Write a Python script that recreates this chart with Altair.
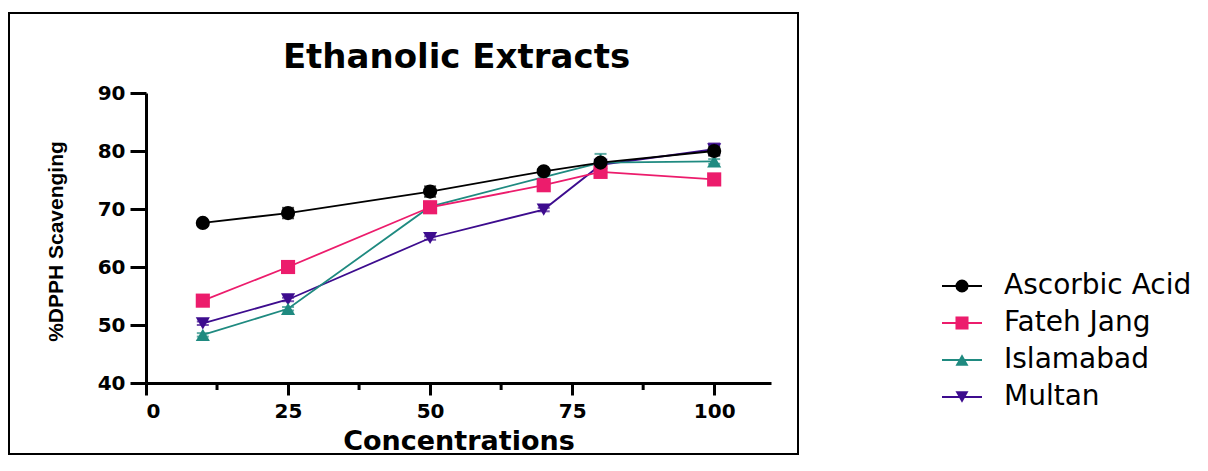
import altair as alt
import pandas as pd

concentrations = [10, 25, 50, 70, 80, 100]
series_names = ["Ascorbic Acid", "Fateh Jang", "Islamabad", "Multan"]
ascorbic = [67.6, 69.3, 73.0, 76.5, 78.0, 80.0]
fateh = [54.2, 60.0, 70.3, 74.1, 76.4, 75.1]
islamabad = [48.3, 52.8, 70.4, 75.5, 78.0, 78.2]
multan = [50.3, 54.4, 65.0, 69.9, 77.6, 80.3]
ascorbic_err = [0.3, 0.9, 0.9, 0.4, 0.5, 0.8]
fateh_err = [0.3, 0.3, 0.3, 0.3, 0.5, 0.3]
islamabad_err = [0.3, 0.3, 0.3, 0.3, 1.5, 0.4]
multan_err = [0.3, 0.3, 0.3, 0.3, 0.4, 1.0]
colors = ["#000000", "#EC1C6C", "#1F8A80", "#3D0C8E"]
shapes = ["circle", "square", "triangle-up", "triangle-down"]
x_ticks = [0, 25, 50, 75, 100]
x_minor = [12.5, 37.5, 62.5, 87.5]
y_ticks = [40, 50, 60, 70, 80, 90]
chart_title = "Ethanolic Extracts"

values = {"Ascorbic Acid": ascorbic, "Fateh Jang": fateh, "Islamabad": islamabad, "Multan": multan}
errors = {"Ascorbic Acid": ascorbic_err, "Fateh Jang": fateh_err, "Islamabad": islamabad_err, "Multan": multan_err}

rows = []
for name in ["Multan", "Islamabad", "Fateh Jang", "Ascorbic Acid"]:
    for c, v, e in zip(concentrations, values[name], errors[name]):
        rows.append({"series": name, "conc": c, "val": v, "lo": v - e, "hi": v + e})
df = pd.DataFrame(rows)

FONT = "DejaVu Sans"
W, H = 625, 290

xs = alt.Scale(domain=[0, 110], nice=False, zero=False)
ys = alt.Scale(domain=[40, 90], nice=False, zero=False)
cs = alt.Scale(domain=series_names, range=colors)
ss = alt.Scale(domain=series_names, range=shapes)

ax_x = alt.Axis(values=x_ticks, title="Concentrations", grid=False, tickSize=12,
                labelPadding=6, labelFontSize=20, titleFontSize=27, titleY=58,
                titleBaseline="middle")
ax_y = alt.Axis(values=y_ticks, title="%DPPH Scavenging", grid=False, tickSize=16,
                labelPadding=5, labelFontSize=20, titleFont="Liberation Sans",
                titleFontSize=21, titleX=-90, titleY=148, titleAngle=270,
                titleAlign="center", titleBaseline="middle")

base = alt.Chart(df)

lines = base.mark_line(strokeWidth=1.8).encode(
    x=alt.X("conc:Q", scale=xs, axis=ax_x),
    y=alt.Y("val:Q", scale=ys, axis=ax_y),
    color=alt.Color("series:N", scale=cs, legend=None),
    detail="series:N",
)

errs = base.mark_errorbar(ticks=alt.TickConfig(size=12, thickness=2), thickness=2).encode(
    x=alt.X("conc:Q", scale=xs, axis=ax_x),
    y=alt.Y("lo:Q", scale=ys, axis=ax_y),
    y2="hi:Q",
    color=alt.Color("series:N", scale=cs, legend=None),
)

points = base.mark_point(filled=True, opacity=1, size=200).encode(
    x=alt.X("conc:Q", scale=xs, axis=ax_x),
    y=alt.Y("val:Q", scale=ys, axis=ax_y),
    color=alt.Color("series:N", scale=cs, legend=None),
    shape=alt.Shape("series:N", scale=ss, legend=None),
)

minor_df = pd.DataFrame({"m": x_minor})
minor = alt.Chart(minor_df).mark_rule(strokeWidth=3, color="black").encode(
    x=alt.X("m:Q", scale=xs, axis=ax_x),
    y=alt.value(H),
    y2=alt.value(H + 7),
)

main = alt.layer(lines, errs, points, minor)

leg_df = pd.DataFrame({"series": series_names, "idx": [0, 1, 2, 3]})
leg_y = alt.Y("idx:Q", scale=alt.Scale(domain=[0, 3], range=[193, 304]), axis=None)
leg_base = alt.Chart(leg_df)
leg_rule = leg_base.mark_rule(strokeWidth=2).encode(
    x=alt.value(796), x2=alt.value(836), y=leg_y,
    color=alt.Color("series:N", scale=cs, legend=None),
)
leg_pt = leg_base.mark_point(filled=True, opacity=1, size=170).encode(
    x=alt.value(816), y=leg_y,
    color=alt.Color("series:N", scale=cs, legend=None),
    shape=alt.Shape("series:N", scale=ss, legend=None),
)
leg_txt = leg_base.mark_text(align="left", baseline="middle", fontSize=28, font=FONT, color="black").encode(
    x=alt.value(858), y=leg_y, text="series:N",
)
legend = alt.layer(leg_rule, leg_pt, leg_txt)

deco_df = pd.DataFrame({"t": [chart_title]})
frame = alt.Chart(deco_df).mark_rect(
    fill=None, stroke="black", strokeWidth=2
).encode(
    x=alt.value(-137), x2=alt.value(652), y=alt.value(-80), y2=alt.value(361),
)
title_txt = alt.Chart(deco_df).mark_text(
    font=FONT, fontSize=34, fontWeight="bold", color="black", align="center", baseline="alphabetic"
).encode(x=alt.value(W / 2 - 2), y=alt.value(-25), text="t:N")

chart = alt.layer(main, legend, frame, title_txt).resolve_scale(y="independent").properties(
    width=W, height=H,
    autosize=alt.AutoSizeParams(type="none"),
    padding={"left": 138, "top": 85, "right": 429, "bottom": 80},
).configure_view(stroke=None).configure_axis(
    domainColor="black", domainWidth=3, tickColor="black", tickWidth=3,
    labelColor="black", labelFont=FONT, labelFontWeight="bold", labelFontSize=20,
    titleColor="black", titleFont=FONT, titleFontWeight="bold",
)

chart.save("out.html", embed_options={"renderer": "svg", "actions": False})
